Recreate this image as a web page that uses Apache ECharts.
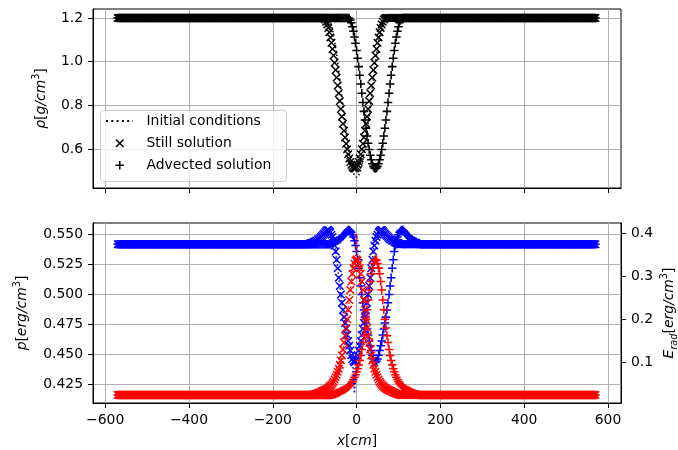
<!DOCTYPE html>
<html><head><meta charset="utf-8">
<script src="https://cdn.jsdelivr.net/npm/echarts@6/dist/echarts.min.js"></script>
<style>html,body{margin:0;padding:0;background:#fff}#c{width:678px;height:450px}</style>
</head><body><div id="c"></div>
<script>
// ---- simulation grid (cell centres, cm) ----
const xFirst = -570, xLast = 570, dx = 2.5;

// ---- tick labels ----
const xTicks = [-600, -400, -200, 0, 200, 400, 600];
const rhoTicks = [0.6, 0.8, 1.0, 1.2];
const pTicks = [0.425, 0.45, 0.475, 0.5, 0.525, 0.55];
const eTicks = [0.1, 0.2, 0.3, 0.4];
const legendLabels = ['Initial conditions', 'Still solution', 'Advected solution'];

// ---- profile centres (cm) ----
const centerInit = 0, centerStill = -5, centerAdv = 45, centerEStill = 0;

// ---- far-field (flat) values ----
const rhoBase = 1.2, pBase = 0.542, eBase = 0.024;

// ---- profiles read at |x - centre| = 0, 2.5, 5, ... cm ----
const rhoInitHalf = [0.470,0.472,0.479,0.490,0.506,0.526,0.550,0.577,0.607,0.641,0.677,0.714,0.754,0.794,0.835,0.876,0.916,0.955,0.993,1.029,1.063,1.093,1.120,1.144,1.164,1.180,1.191,1.198];
const rhoStillHalf = [0.510,0.512,0.518,0.527,0.540,0.556,0.576,0.599,0.624,0.652,0.683,0.715,0.748,0.783,0.819,0.855,0.891,0.927,0.962,0.995,1.028,1.058,1.086,1.111,1.134,1.154,1.170,1.183,1.193,1.198];
const rhoAdvHalf = [0.510,0.513,0.520,0.532,0.550,0.571,0.597,0.626,0.659,0.695,0.733,0.772,0.813,0.855,0.897,0.938,0.977,1.015,1.051,1.084,1.113,1.139,1.160,1.178,1.190,1.197];
const pStillHalf = [0.443,0.444,0.446,0.449,0.453,0.457,0.461,0.466,0.471,0.476,0.481,0.487,0.493,0.500,0.507,0.514,0.522,0.529,0.536,0.541,0.545,0.548,0.550,0.552,0.553,0.554,0.554,0.553,0.552,0.551,0.550,0.549,0.548,0.547,0.546,0.546,0.545,0.545,0.544,0.544,0.543,0.543,0.543,0.542];
const pInitHalf = [0.417,0.432,0.446,0.449,0.453,0.457,0.461,0.466,0.471,0.476,0.481,0.487,0.493,0.500,0.507,0.514,0.522,0.529,0.536,0.541,0.545,0.548,0.550,0.552,0.553,0.554,0.554,0.553,0.552,0.551,0.550,0.549,0.548,0.547,0.546,0.546,0.545,0.545,0.544,0.544,0.543,0.543,0.543,0.542];
const eStillHalf = [0.339,0.337,0.330,0.319,0.306,0.288,0.268,0.245,0.222,0.200,0.180,0.162,0.146,0.130,0.116,0.104,0.094,0.085,0.078,0.071,0.065,0.060,0.055,0.051,0.048,0.045,0.043,0.041,0.039,0.037,0.036,0.035,0.034,0.033,0.031,0.030,0.029,0.028,0.027,0.026,0.025,0.025,0.024];
const eInitHalf = [0.400,0.345,0.330,0.319,0.306,0.288,0.268,0.245,0.222,0.200,0.180,0.162,0.146,0.130,0.116,0.104,0.094,0.085,0.078,0.071,0.065,0.060,0.055,0.051,0.048,0.045,0.043,0.041,0.039,0.037,0.036,0.035,0.034,0.033,0.031,0.030,0.029,0.028,0.027,0.026,0.025,0.025,0.024];

function build(half, base, center) {
  const out = [];
  for (let i = 0; ; i++) {
    const x = xFirst + i * dx;
    if (x > xLast + 1e-9) break;
    const k = Math.round(Math.abs(x - center) / dx);
    out.push([x, k < half.length ? half[k] : base]);
  }
  return out;
}

// marker outlines in a 100x100 box
const X_PTS = [[0,12],[12,0],[50,38],[88,0],[100,12],[62,50],[100,88],[88,100],[50,62],[12,100],[0,88],[38,50]];
const PLUS_PTS = [[41,0],[59,0],[59,41],[100,41],[100,59],[59,59],[59,100],[41,100],[41,59],[0,59],[0,41],[41,41]];
const toPath = pts => 'path://' + pts.map((p, i) => (i ? 'L' : 'M') + p[0] + ',' + p[1]).join('') + 'Z';
const X_PATH = toPath(X_PTS);
const PLUS_PATH = toPath(PLUS_PTS);
const MS = 8.5;
const place = (pts, cx, cy) => pts.map(p => [cx - MS / 2 + p[0] * MS / 100, cy - MS / 2 + p[1] * MS / 100]);

const FONT = 'DejaVu Sans';
const FS = 13.9;
const rich = {
  i: {fontFamily: FONT, fontStyle: 'italic', fontSize: FS, lineHeight: 20, color: '#000'},
  n: {fontFamily: FONT, fontSize: FS, lineHeight: 20, color: '#000'},
  s: {fontFamily: FONT, fontSize: 9.7, lineHeight: 12, verticalAlign: 'top', color: '#000'},
  b: {fontFamily: FONT, fontStyle: 'italic', fontSize: 9.7, lineHeight: 10, verticalAlign: 'bottom', color: '#000'}
};
const gridLine = {show: true, lineStyle: {color: '#b0b0b0', width: 1}};
const tickStyle = {show: true, length: 5, inside: false, lineStyle: {color: '#000', width: 1}};
const labelBase = {color: '#000', fontFamily: FONT, fontSize: FS, margin: 10};
const minus = v => (v < 0 ? '\u2212' : '') + Math.abs(v);

function scatter(name, data, sym, color, xi, yi) {
  return {type: 'scatter', name, data, symbol: sym, symbolSize: MS, xAxisIndex: xi, yAxisIndex: yi,
    itemStyle: {color, opacity: 1}, emphasis: {disabled: true}, silent: true, animation: false};
}
function dotted(name, data, color, xi, yi) {
  return {type: 'line', name, data, showSymbol: false, symbol: 'none', xAxisIndex: xi, yAxisIndex: yi,
    lineStyle: {color, width: 1.5, type: [1.5, 2.5]}, emphasis: {disabled: true}, silent: true, animation: false};
}

const chart = echarts.init(document.getElementById('c'), null, {renderer: 'canvas'});
chart.setOption({
  animation: false,
  backgroundColor: '#fff',
  grid: [
    {left: 93, top: 9, width: 528, height: 179, show: true, borderColor: '#000', borderWidth: 1, backgroundColor: 'transparent', containLabel: false, outerBoundsMode: 'none'},
    {left: 93, top: 223, width: 528, height: 180, show: true, borderColor: '#000', borderWidth: 1, backgroundColor: 'transparent', containLabel: false, outerBoundsMode: 'none'}
  ],
  xAxis: [
    {type: 'value', gridIndex: 0, min: -629, max: 631,
     axisLine: {show: true, onZero: false, lineStyle: {color: '#000'}},
     axisTick: Object.assign({customValues: xTicks}, tickStyle),
     axisLabel: {show: false, customValues: xTicks},
     splitLine: gridLine},
    {type: 'value', gridIndex: 1, min: -629, max: 631,
     axisLine: {show: true, onZero: false, lineStyle: {color: '#000'}},
     axisTick: Object.assign({customValues: xTicks}, tickStyle),
     axisLabel: Object.assign({customValues: xTicks, formatter: minus}, labelBase),
     splitLine: gridLine,
     name: '{i|x}{n|[}{i|cm}{n|]}', nameLocation: 'middle', nameGap: 28, nameMoveOverlap: false,
     nameTextStyle: {rich}}
  ],
  yAxis: [
    {type: 'value', gridIndex: 0, min: 0.421, max: 1.241,
     axisLine: {show: true, onZero: false, lineStyle: {color: '#000'}},
     axisTick: Object.assign({customValues: rhoTicks}, tickStyle),
     axisLabel: Object.assign({customValues: rhoTicks, formatter: v => v.toFixed(1)}, labelBase),
     splitLine: gridLine,
     name: '{i|ρ}{n|[}{i|g/cm}{s|3}{n|]}', nameLocation: 'middle', nameGap: 42, nameMoveOverlap: false,
     nameTextStyle: {rich}},
    {type: 'value', gridIndex: 1, min: 0.4091, max: 0.5598,
     axisLine: {show: true, onZero: false, lineStyle: {color: '#000'}},
     axisTick: Object.assign({customValues: pTicks}, tickStyle),
     axisLabel: Object.assign({customValues: pTicks, formatter: v => v.toFixed(3)}, labelBase),
     splitLine: gridLine,
     name: '{i|p}{n|[}{i|erg/cm}{s|3}{n|]}', nameLocation: 'middle', nameGap: 61, nameMoveOverlap: false,
     nameTextStyle: {rich}},
    {type: 'value', gridIndex: 1, position: 'right', min: 0.0053, max: 0.424,
     axisLine: {show: true, onZero: false, lineStyle: {color: '#000'}},
     axisTick: Object.assign({customValues: eTicks}, tickStyle),
     axisLabel: Object.assign({customValues: eTicks, formatter: v => v.toFixed(1)}, labelBase),
     splitLine: {show: false},
     name: '{i|E}{b|rad}{n|[}{i|erg/cm}{s|3}{n|]}', nameLocation: 'middle', nameGap: 38, nameMoveOverlap: false,
     nameTextStyle: {rich}}
  ],
  series: [
    dotted(legendLabels[0], build(rhoInitHalf, rhoBase, centerInit), '#000', 0, 0),
    scatter(legendLabels[1], build(rhoStillHalf, rhoBase, centerStill), X_PATH, '#000', 0, 0),
    scatter(legendLabels[2], build(rhoAdvHalf, rhoBase, centerAdv), PLUS_PATH, '#000', 0, 0),
    dotted('p init', build(pInitHalf, pBase, centerStill), '#0000ff', 1, 1),
    scatter('p still', build(pStillHalf, pBase, centerStill), X_PATH, '#0000ff', 1, 1),
    scatter('p advected', build(pStillHalf, pBase, centerAdv), PLUS_PATH, '#0000ff', 1, 1),
    dotted('E init', build(eInitHalf, eBase, centerEStill), '#ff0000', 1, 2),
    scatter('E still', build(eStillHalf, eBase, centerEStill), X_PATH, '#ff0000', 1, 2),
    scatter('E advected', build(eStillHalf, eBase, centerAdv), PLUS_PATH, '#ff0000', 1, 2)
  ],
  graphic: [
    {type: 'rect', z: 100, shape: {x: 100.5, y: 110.5, width: 186, height: 71, r: 3},
     style: {fill: 'rgba(255,255,255,0.8)', stroke: '#cccccc', lineWidth: 1}},
    {type: 'line', z: 101, shape: {x1: 106, y1: 121, x2: 133, y2: 121},
     style: {stroke: '#000', lineWidth: 2, lineDash: [2, 3.3]}},
    {type: 'polygon', z: 101, shape: {points: place(X_PTS, 119.75, 143.25)}, style: {fill: '#000'}},
    {type: 'polygon', z: 101, shape: {points: place(PLUS_PTS, 119.75, 165.25)}, style: {fill: '#000'}},
    {type: 'text', z: 101, x: 146.5, y: 121, style: {text: legendLabels[0], fill: '#000', font: FS + 'px "' + FONT + '"', verticalAlign: 'middle', align: 'left'}},
    {type: 'text', z: 101, x: 146.5, y: 143, style: {text: legendLabels[1], fill: '#000', font: FS + 'px "' + FONT + '"', verticalAlign: 'middle', align: 'left'}},
    {type: 'text', z: 101, x: 146.5, y: 165, style: {text: legendLabels[2], fill: '#000', font: FS + 'px "' + FONT + '"', verticalAlign: 'middle', align: 'left'}}
  ]
});
</script></body></html>
